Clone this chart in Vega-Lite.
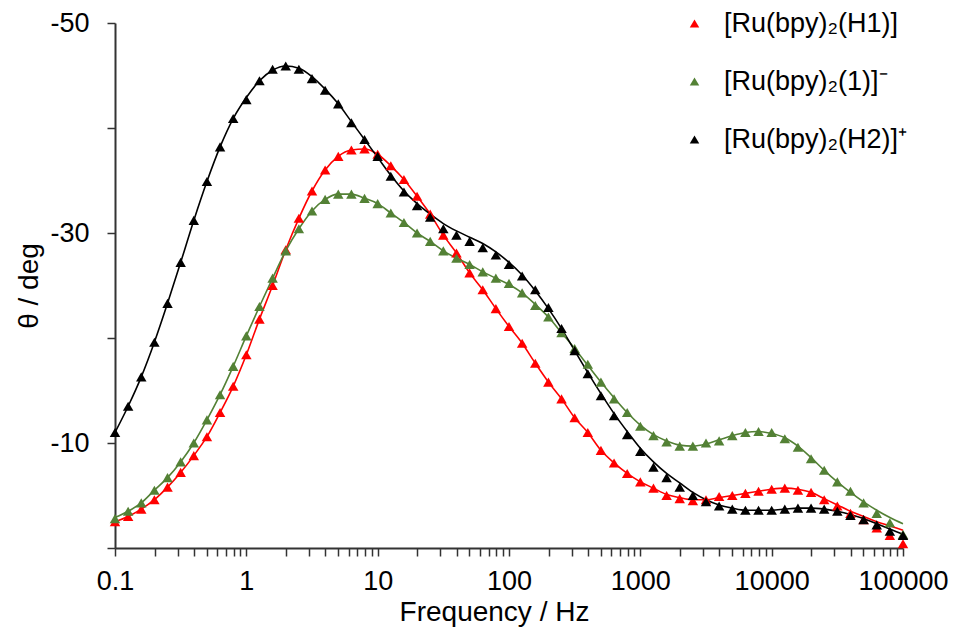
{
"$schema": "https://vega.github.io/schema/vega-lite/v6.json",
"width": 788, "height": 525,
"autosize": {"type": "none"},
"padding": {"left": 115, "top": 23, "right": 54, "bottom": 80},
"background": "white",
"config": {"font": "Liberation Sans", "view": {"stroke": null}},
"data": {"values": [
{"f":0.1,"s":"[Ru(bpy)₂(H1)]","v":-2.5,"fit":-2.5},
{"f":0.1259,"s":"[Ru(bpy)₂(H1)]","v":-3.0,"fit":-3.0},
{"f":0.1585,"s":"[Ru(bpy)₂(H1)]","v":-3.7,"fit":-3.7},
{"f":0.1995,"s":"[Ru(bpy)₂(H1)]","v":-4.6,"fit":-4.6},
{"f":0.2512,"s":"[Ru(bpy)₂(H1)]","v":-5.8,"fit":-5.8},
{"f":0.3162,"s":"[Ru(bpy)₂(H1)]","v":-7.2,"fit":-7.2},
{"f":0.3981,"s":"[Ru(bpy)₂(H1)]","v":-8.8,"fit":-8.8},
{"f":0.5012,"s":"[Ru(bpy)₂(H1)]","v":-10.6,"fit":-10.6},
{"f":0.631,"s":"[Ru(bpy)₂(H1)]","v":-12.9,"fit":-12.9},
{"f":0.7943,"s":"[Ru(bpy)₂(H1)]","v":-15.4,"fit":-15.4},
{"f":1,"s":"[Ru(bpy)₂(H1)]","v":-18.4,"fit":-18.4},
{"f":1.259,"s":"[Ru(bpy)₂(H1)]","v":-21.8,"fit":-21.8},
{"f":1.585,"s":"[Ru(bpy)₂(H1)]","v":-25.0,"fit":-25.0},
{"f":1.995,"s":"[Ru(bpy)₂(H1)]","v":-28.4,"fit":-28.4},
{"f":2.512,"s":"[Ru(bpy)₂(H1)]","v":-31.4,"fit":-31.4},
{"f":3.162,"s":"[Ru(bpy)₂(H1)]","v":-34.0,"fit":-34.0},
{"f":3.981,"s":"[Ru(bpy)₂(H1)]","v":-36.0,"fit":-36.0},
{"f":5.012,"s":"[Ru(bpy)₂(H1)]","v":-37.3,"fit":-37.3},
{"f":6.31,"s":"[Ru(bpy)₂(H1)]","v":-37.9,"fit":-37.9},
{"f":7.943,"s":"[Ru(bpy)₂(H1)]","v":-38.0,"fit":-38.0},
{"f":10,"s":"[Ru(bpy)₂(H1)]","v":-37.5,"fit":-37.5},
{"f":12.59,"s":"[Ru(bpy)₂(H1)]","v":-36.4,"fit":-36.4},
{"f":15.85,"s":"[Ru(bpy)₂(H1)]","v":-35.1,"fit":-35.1},
{"f":19.95,"s":"[Ru(bpy)₂(H1)]","v":-33.5,"fit":-33.5},
{"f":25.12,"s":"[Ru(bpy)₂(H1)]","v":-31.8,"fit":-31.8},
{"f":31.62,"s":"[Ru(bpy)₂(H1)]","v":-29.8,"fit":-29.8},
{"f":39.81,"s":"[Ru(bpy)₂(H1)]","v":-28.1,"fit":-28.1},
{"f":50.12,"s":"[Ru(bpy)₂(H1)]","v":-26.2,"fit":-26.2},
{"f":63.1,"s":"[Ru(bpy)₂(H1)]","v":-24.6,"fit":-24.6},
{"f":79.43,"s":"[Ru(bpy)₂(H1)]","v":-22.8,"fit":-22.8},
{"f":100,"s":"[Ru(bpy)₂(H1)]","v":-21.1,"fit":-21.1},
{"f":125.9,"s":"[Ru(bpy)₂(H1)]","v":-19.5,"fit":-19.5},
{"f":158.5,"s":"[Ru(bpy)₂(H1)]","v":-17.6,"fit":-17.6},
{"f":199.5,"s":"[Ru(bpy)₂(H1)]","v":-15.8,"fit":-15.8},
{"f":251.2,"s":"[Ru(bpy)₂(H1)]","v":-14.2,"fit":-14.2},
{"f":316.2,"s":"[Ru(bpy)₂(H1)]","v":-12.4,"fit":-12.4},
{"f":398.1,"s":"[Ru(bpy)₂(H1)]","v":-11.0,"fit":-11.0},
{"f":501.2,"s":"[Ru(bpy)₂(H1)]","v":-9.3,"fit":-9.3},
{"f":631,"s":"[Ru(bpy)₂(H1)]","v":-8.1,"fit":-8.1},
{"f":794.3,"s":"[Ru(bpy)₂(H1)]","v":-7.1,"fit":-7.1},
{"f":1000,"s":"[Ru(bpy)₂(H1)]","v":-6.3,"fit":-6.3},
{"f":1259,"s":"[Ru(bpy)₂(H1)]","v":-5.7,"fit":-5.7},
{"f":1585,"s":"[Ru(bpy)₂(H1)]","v":-5.0,"fit":-5.1},
{"f":1995,"s":"[Ru(bpy)₂(H1)]","v":-4.7,"fit":-4.8},
{"f":2512,"s":"[Ru(bpy)₂(H1)]","v":-4.5,"fit":-4.6},
{"f":3162,"s":"[Ru(bpy)₂(H1)]","v":-4.6,"fit":-4.6},
{"f":3981,"s":"[Ru(bpy)₂(H1)]","v":-4.9,"fit":-4.8},
{"f":5012,"s":"[Ru(bpy)₂(H1)]","v":-5.0,"fit":-5.0},
{"f":6310,"s":"[Ru(bpy)₂(H1)]","v":-5.2,"fit":-5.2},
{"f":7943,"s":"[Ru(bpy)₂(H1)]","v":-5.4,"fit":-5.4},
{"f":10000,"s":"[Ru(bpy)₂(H1)]","v":-5.6,"fit":-5.6},
{"f":12589,"s":"[Ru(bpy)₂(H1)]","v":-5.7,"fit":-5.7},
{"f":15849,"s":"[Ru(bpy)₂(H1)]","v":-5.5,"fit":-5.6},
{"f":19953,"s":"[Ru(bpy)₂(H1)]","v":-5.3,"fit":-5.3},
{"f":25119,"s":"[Ru(bpy)₂(H1)]","v":-4.6,"fit":-4.7},
{"f":31623,"s":"[Ru(bpy)₂(H1)]","v":-4.0,"fit":-4.1},
{"f":39811,"s":"[Ru(bpy)₂(H1)]","v":-3.3,"fit":-3.5},
{"f":50119,"s":"[Ru(bpy)₂(H1)]","v":-2.7,"fit":-3.0},
{"f":63096,"s":"[Ru(bpy)₂(H1)]","v":-1.9,"fit":-2.5},
{"f":79433,"s":"[Ru(bpy)₂(H1)]","v":-1.2,"fit":-2.1},
{"f":100000,"s":"[Ru(bpy)₂(H1)]","v":-0.4,"fit":-1.7},
{"f":0.1,"s":"[Ru(bpy)₂(1)]⁻","v":-2.8,"fit":-2.9},
{"f":0.1259,"s":"[Ru(bpy)₂(1)]⁻","v":-3.5,"fit":-3.5},
{"f":0.1585,"s":"[Ru(bpy)₂(1)]⁻","v":-4.3,"fit":-4.3},
{"f":0.1995,"s":"[Ru(bpy)₂(1)]⁻","v":-5.5,"fit":-5.5},
{"f":0.2512,"s":"[Ru(bpy)₂(1)]⁻","v":-6.7,"fit":-6.7},
{"f":0.3162,"s":"[Ru(bpy)₂(1)]⁻","v":-8.2,"fit":-8.2},
{"f":0.3981,"s":"[Ru(bpy)₂(1)]⁻","v":-10.0,"fit":-10.0},
{"f":0.5012,"s":"[Ru(bpy)₂(1)]⁻","v":-12.2,"fit":-12.2},
{"f":0.631,"s":"[Ru(bpy)₂(1)]⁻","v":-14.6,"fit":-14.6},
{"f":0.7943,"s":"[Ru(bpy)₂(1)]⁻","v":-17.3,"fit":-17.3},
{"f":1,"s":"[Ru(bpy)₂(1)]⁻","v":-20.2,"fit":-20.2},
{"f":1.259,"s":"[Ru(bpy)₂(1)]⁻","v":-23.0,"fit":-23.0},
{"f":1.585,"s":"[Ru(bpy)₂(1)]⁻","v":-25.7,"fit":-25.7},
{"f":1.995,"s":"[Ru(bpy)₂(1)]⁻","v":-28.3,"fit":-28.3},
{"f":2.512,"s":"[Ru(bpy)₂(1)]⁻","v":-30.4,"fit":-30.4},
{"f":3.162,"s":"[Ru(bpy)₂(1)]⁻","v":-32.1,"fit":-32.1},
{"f":3.981,"s":"[Ru(bpy)₂(1)]⁻","v":-33.2,"fit":-33.2},
{"f":5.012,"s":"[Ru(bpy)₂(1)]⁻","v":-33.7,"fit":-33.7},
{"f":6.31,"s":"[Ru(bpy)₂(1)]⁻","v":-33.7,"fit":-33.7},
{"f":7.943,"s":"[Ru(bpy)₂(1)]⁻","v":-33.3,"fit":-33.3},
{"f":10,"s":"[Ru(bpy)₂(1)]⁻","v":-32.8,"fit":-32.8},
{"f":12.59,"s":"[Ru(bpy)₂(1)]⁻","v":-31.9,"fit":-31.9},
{"f":15.85,"s":"[Ru(bpy)₂(1)]⁻","v":-31.0,"fit":-31.0},
{"f":19.95,"s":"[Ru(bpy)₂(1)]⁻","v":-30.0,"fit":-30.0},
{"f":25.12,"s":"[Ru(bpy)₂(1)]⁻","v":-29.2,"fit":-29.2},
{"f":31.62,"s":"[Ru(bpy)₂(1)]⁻","v":-28.3,"fit":-28.3},
{"f":39.81,"s":"[Ru(bpy)₂(1)]⁻","v":-27.6,"fit":-27.6},
{"f":50.12,"s":"[Ru(bpy)₂(1)]⁻","v":-27.0,"fit":-27.0},
{"f":63.1,"s":"[Ru(bpy)₂(1)]⁻","v":-26.3,"fit":-26.3},
{"f":79.43,"s":"[Ru(bpy)₂(1)]⁻","v":-25.7,"fit":-25.7},
{"f":100,"s":"[Ru(bpy)₂(1)]⁻","v":-25.2,"fit":-25.1},
{"f":125.9,"s":"[Ru(bpy)₂(1)]⁻","v":-24.3,"fit":-24.3},
{"f":158.5,"s":"[Ru(bpy)₂(1)]⁻","v":-23.1,"fit":-23.2},
{"f":199.5,"s":"[Ru(bpy)₂(1)]⁻","v":-22.0,"fit":-22.0},
{"f":251.2,"s":"[Ru(bpy)₂(1)]⁻","v":-20.5,"fit":-20.5},
{"f":316.2,"s":"[Ru(bpy)₂(1)]⁻","v":-19.0,"fit":-19.0},
{"f":398.1,"s":"[Ru(bpy)₂(1)]⁻","v":-17.5,"fit":-17.4},
{"f":501.2,"s":"[Ru(bpy)₂(1)]⁻","v":-15.8,"fit":-15.8},
{"f":631,"s":"[Ru(bpy)₂(1)]⁻","v":-14.2,"fit":-14.3},
{"f":794.3,"s":"[Ru(bpy)₂(1)]⁻","v":-12.9,"fit":-12.9},
{"f":1000,"s":"[Ru(bpy)₂(1)]⁻","v":-11.6,"fit":-11.7},
{"f":1259,"s":"[Ru(bpy)₂(1)]⁻","v":-10.7,"fit":-10.8},
{"f":1585,"s":"[Ru(bpy)₂(1)]⁻","v":-10.1,"fit":-10.2},
{"f":1995,"s":"[Ru(bpy)₂(1)]⁻","v":-9.7,"fit":-9.8},
{"f":2512,"s":"[Ru(bpy)₂(1)]⁻","v":-9.7,"fit":-9.7},
{"f":3162,"s":"[Ru(bpy)₂(1)]⁻","v":-10.0,"fit":-9.9},
{"f":3981,"s":"[Ru(bpy)₂(1)]⁻","v":-10.2,"fit":-10.3},
{"f":5012,"s":"[Ru(bpy)₂(1)]⁻","v":-10.7,"fit":-10.7},
{"f":6310,"s":"[Ru(bpy)₂(1)]⁻","v":-11.0,"fit":-11.0},
{"f":7943,"s":"[Ru(bpy)₂(1)]⁻","v":-11.1,"fit":-11.1},
{"f":10000,"s":"[Ru(bpy)₂(1)]⁻","v":-11.0,"fit":-10.9},
{"f":12589,"s":"[Ru(bpy)₂(1)]⁻","v":-10.4,"fit":-10.5},
{"f":15849,"s":"[Ru(bpy)₂(1)]⁻","v":-9.6,"fit":-9.7},
{"f":19953,"s":"[Ru(bpy)₂(1)]⁻","v":-8.5,"fit":-8.6},
{"f":25119,"s":"[Ru(bpy)₂(1)]⁻","v":-7.4,"fit":-7.4},
{"f":31623,"s":"[Ru(bpy)₂(1)]⁻","v":-6.3,"fit":-6.3},
{"f":39811,"s":"[Ru(bpy)₂(1)]⁻","v":-5.4,"fit":-5.3},
{"f":50119,"s":"[Ru(bpy)₂(1)]⁻","v":-4.3,"fit":-4.4},
{"f":63096,"s":"[Ru(bpy)₂(1)]⁻","v":-3.3,"fit":-3.6},
{"f":79433,"s":"[Ru(bpy)₂(1)]⁻","v":-2.4,"fit":-2.9},
{"f":100000,"s":"[Ru(bpy)₂(1)]⁻","v":-1.3,"fit":-2.3},
{"f":0.1,"s":"[Ru(bpy)₂(H2)]⁺","v":-11.0,"fit":-11.0},
{"f":0.1259,"s":"[Ru(bpy)₂(H2)]⁺","v":-13.5,"fit":-13.5},
{"f":0.1585,"s":"[Ru(bpy)₂(H2)]⁺","v":-16.3,"fit":-16.3},
{"f":0.1995,"s":"[Ru(bpy)₂(H2)]⁺","v":-19.6,"fit":-19.6},
{"f":0.2512,"s":"[Ru(bpy)₂(H2)]⁺","v":-23.3,"fit":-23.3},
{"f":0.3162,"s":"[Ru(bpy)₂(H2)]⁺","v":-27.2,"fit":-27.2},
{"f":0.3981,"s":"[Ru(bpy)₂(H2)]⁺","v":-31.2,"fit":-31.2},
{"f":0.5012,"s":"[Ru(bpy)₂(H2)]⁺","v":-34.9,"fit":-34.9},
{"f":0.631,"s":"[Ru(bpy)₂(H2)]⁺","v":-38.2,"fit":-38.2},
{"f":0.7943,"s":"[Ru(bpy)₂(H2)]⁺","v":-40.9,"fit":-40.9},
{"f":1,"s":"[Ru(bpy)₂(H2)]⁺","v":-42.7,"fit":-42.9},
{"f":1.259,"s":"[Ru(bpy)₂(H2)]⁺","v":-44.5,"fit":-44.5},
{"f":1.585,"s":"[Ru(bpy)₂(H2)]⁺","v":-45.6,"fit":-45.5},
{"f":1.995,"s":"[Ru(bpy)₂(H2)]⁺","v":-45.9,"fit":-45.9},
{"f":2.512,"s":"[Ru(bpy)₂(H2)]⁺","v":-45.6,"fit":-45.7},
{"f":3.162,"s":"[Ru(bpy)₂(H2)]⁺","v":-44.7,"fit":-44.9},
{"f":3.981,"s":"[Ru(bpy)₂(H2)]⁺","v":-43.6,"fit":-43.7},
{"f":5.012,"s":"[Ru(bpy)₂(H2)]⁺","v":-42.3,"fit":-42.3},
{"f":6.31,"s":"[Ru(bpy)₂(H2)]⁺","v":-40.5,"fit":-40.6},
{"f":7.943,"s":"[Ru(bpy)₂(H2)]⁺","v":-38.9,"fit":-38.9},
{"f":10,"s":"[Ru(bpy)₂(H2)]⁺","v":-37.3,"fit":-37.2},
{"f":12.59,"s":"[Ru(bpy)₂(H2)]⁺","v":-35.4,"fit":-35.5},
{"f":15.85,"s":"[Ru(bpy)₂(H2)]⁺","v":-33.9,"fit":-34.0},
{"f":19.95,"s":"[Ru(bpy)₂(H2)]⁺","v":-32.6,"fit":-32.8},
{"f":25.12,"s":"[Ru(bpy)₂(H2)]⁺","v":-31.5,"fit":-31.8},
{"f":31.62,"s":"[Ru(bpy)₂(H2)]⁺","v":-30.4,"fit":-30.9},
{"f":39.81,"s":"[Ru(bpy)₂(H2)]⁺","v":-29.8,"fit":-30.2},
{"f":50.12,"s":"[Ru(bpy)₂(H2)]⁺","v":-29.2,"fit":-29.6},
{"f":63.1,"s":"[Ru(bpy)₂(H2)]⁺","v":-28.6,"fit":-29.0},
{"f":79.43,"s":"[Ru(bpy)₂(H2)]⁺","v":-27.9,"fit":-28.2},
{"f":100,"s":"[Ru(bpy)₂(H2)]⁺","v":-27.0,"fit":-27.2},
{"f":125.9,"s":"[Ru(bpy)₂(H2)]⁺","v":-25.9,"fit":-26.0},
{"f":158.5,"s":"[Ru(bpy)₂(H2)]⁺","v":-24.6,"fit":-24.5},
{"f":199.5,"s":"[Ru(bpy)₂(H2)]⁺","v":-22.9,"fit":-22.8},
{"f":251.2,"s":"[Ru(bpy)₂(H2)]⁺","v":-20.9,"fit":-20.9},
{"f":316.2,"s":"[Ru(bpy)₂(H2)]⁺","v":-18.8,"fit":-18.8},
{"f":398.1,"s":"[Ru(bpy)₂(H2)]⁺","v":-16.6,"fit":-16.7},
{"f":501.2,"s":"[Ru(bpy)₂(H2)]⁺","v":-14.5,"fit":-14.7},
{"f":631,"s":"[Ru(bpy)₂(H2)]⁺","v":-12.6,"fit":-12.8},
{"f":794.3,"s":"[Ru(bpy)₂(H2)]⁺","v":-10.8,"fit":-11.1},
{"f":1000,"s":"[Ru(bpy)₂(H2)]⁺","v":-9.2,"fit":-9.5},
{"f":1259,"s":"[Ru(bpy)₂(H2)]⁺","v":-7.7,"fit":-8.2},
{"f":1585,"s":"[Ru(bpy)₂(H2)]⁺","v":-6.7,"fit":-7.1},
{"f":1995,"s":"[Ru(bpy)₂(H2)]⁺","v":-5.8,"fit":-6.2},
{"f":2512,"s":"[Ru(bpy)₂(H2)]⁺","v":-5.0,"fit":-5.3},
{"f":3162,"s":"[Ru(bpy)₂(H2)]⁺","v":-4.4,"fit":-4.6},
{"f":3981,"s":"[Ru(bpy)₂(H2)]⁺","v":-4.0,"fit":-4.1},
{"f":5012,"s":"[Ru(bpy)₂(H2)]⁺","v":-3.7,"fit":-3.8},
{"f":6310,"s":"[Ru(bpy)₂(H2)]⁺","v":-3.6,"fit":-3.6},
{"f":7943,"s":"[Ru(bpy)₂(H2)]⁺","v":-3.6,"fit":-3.6},
{"f":10000,"s":"[Ru(bpy)₂(H2)]⁺","v":-3.6,"fit":-3.6},
{"f":12589,"s":"[Ru(bpy)₂(H2)]⁺","v":-3.7,"fit":-3.7},
{"f":15849,"s":"[Ru(bpy)₂(H2)]⁺","v":-3.8,"fit":-3.8},
{"f":19953,"s":"[Ru(bpy)₂(H2)]⁺","v":-3.8,"fit":-3.8},
{"f":25119,"s":"[Ru(bpy)₂(H2)]⁺","v":-3.7,"fit":-3.7},
{"f":31623,"s":"[Ru(bpy)₂(H2)]⁺","v":-3.5,"fit":-3.5},
{"f":39811,"s":"[Ru(bpy)₂(H2)]⁺","v":-3.1,"fit":-3.2},
{"f":50119,"s":"[Ru(bpy)₂(H2)]⁺","v":-2.7,"fit":-2.8},
{"f":63096,"s":"[Ru(bpy)₂(H2)]⁺","v":-2.2,"fit":-2.3},
{"f":79433,"s":"[Ru(bpy)₂(H2)]⁺","v":-1.6,"fit":-1.8},
{"f":100000,"s":"[Ru(bpy)₂(H2)]⁺","v":-1.2,"fit":-1.3}
]},
"encoding": {
  "x": {"field": "f", "type": "quantitative",
    "scale": {"type": "log", "domain": [0.1, 100000], "nice": false},
    "axis": {"title": "Frequency / Hz", "grid": false,
      "values": [0.1,0.2,0.3,0.4,0.5,0.6,0.7,0.8,0.9,1,2,3,4,5,6,7,8,9,10,20,30,40,50,60,70,80,90,100,200,300,400,500,600,700,800,900,1000,2000,3000,4000,5000,6000,7000,8000,9000,10000,20000,30000,40000,50000,60000,70000,80000,90000,100000],
      "labelExpr": "indexof([0.1,1,10,100,1000,10000,100000], datum.value) >= 0 ? '' + datum.value : ''",
      "labelOverlap": false, "labelFlush": false, "labelBound": false,
      "domainColor": "#333333", "domainWidth": 2, "tickColor": "#333333", "tickWidth": 1.5, "tickSize": 8,
      "labelFont": "Liberation Sans", "labelFontSize": 27, "labelColor": "#000000", "labelPadding": 12,
      "titleFont": "Liberation Sans", "titleFontSize": 28, "titleFontWeight": "normal", "titleColor": "#000000", "titlePadding": 4, "titleX": 379}}
},
"layer": [
  {"mark": {"type": "line", "strokeWidth": 1.6, "interpolate": "monotone"},
   "encoding": {
     "y": {"field": "fit", "type": "quantitative",
       "scale": {"domain": [-50, 0], "reverse": true, "nice": false, "zero": false},
       "axis": {"title": "θ / deg", "grid": false, "values": [-50,-40,-30,-20,-10,0],
         "labelExpr": "indexof([-50,-30,-10], datum.value) >= 0 ? '' + datum.value : ''",
         "domainColor": "#333333", "domainWidth": 2, "tickColor": "#333333", "tickWidth": 1.5, "tickSize": 8,
         "labelFont": "Liberation Sans", "labelFontSize": 27, "labelColor": "#000000", "labelPadding": 18,
         "titleFont": "Liberation Sans", "titleFontSize": 28, "titleFontWeight": "normal", "titleColor": "#000000", "titlePadding": 6}},
     "color": {"field": "s", "type": "nominal",
       "scale": {"domain": ["[Ru(bpy)₂(H1)]", "[Ru(bpy)₂(1)]⁻", "[Ru(bpy)₂(H2)]⁺"], "range": ["#ff0000", "#538135", "#000000"]},
       "legend": {"orient": "none", "legendX": 566, "legendY": -13, "title": null,
         "symbolType": "triangle-up", "symbolSize": 90, "symbolStrokeWidth": 0,
         "labelFont": "Liberation Sans", "labelFontSize": 27, "labelColor": "#000000", "labelLimit": 400,
         "labelOffset": 16, "rowPadding": 30}}
   }},
  {"mark": {"type": "point", "shape": "triangle-up", "filled": true, "size": 110, "opacity": 1},
   "encoding": {
     "y": {"field": "v", "type": "quantitative",
       "scale": {"domain": [-50, 0], "reverse": true, "nice": false, "zero": false},
       "axis": {"title": "θ / deg", "grid": false, "values": [-50,-40,-30,-20,-10,0],
         "labelExpr": "indexof([-50,-30,-10], datum.value) >= 0 ? '' + datum.value : ''",
         "domainColor": "#333333", "domainWidth": 2, "tickColor": "#333333", "tickWidth": 1.5, "tickSize": 8,
         "labelFont": "Liberation Sans", "labelFontSize": 27, "labelColor": "#000000", "labelPadding": 18,
         "titleFont": "Liberation Sans", "titleFontSize": 28, "titleFontWeight": "normal", "titleColor": "#000000", "titlePadding": 6}},
     "color": {"field": "s", "type": "nominal",
       "scale": {"domain": ["[Ru(bpy)₂(H1)]", "[Ru(bpy)₂(1)]⁻", "[Ru(bpy)₂(H2)]⁺"], "range": ["#ff0000", "#538135", "#000000"]},
       "legend": {"orient": "none", "legendX": 566, "legendY": -13, "title": null,
         "symbolType": "triangle-up", "symbolSize": 90, "symbolStrokeWidth": 0,
         "labelFont": "Liberation Sans", "labelFontSize": 27, "labelColor": "#000000", "labelLimit": 400,
         "labelOffset": 16, "rowPadding": 30}}
   }}
]
}
